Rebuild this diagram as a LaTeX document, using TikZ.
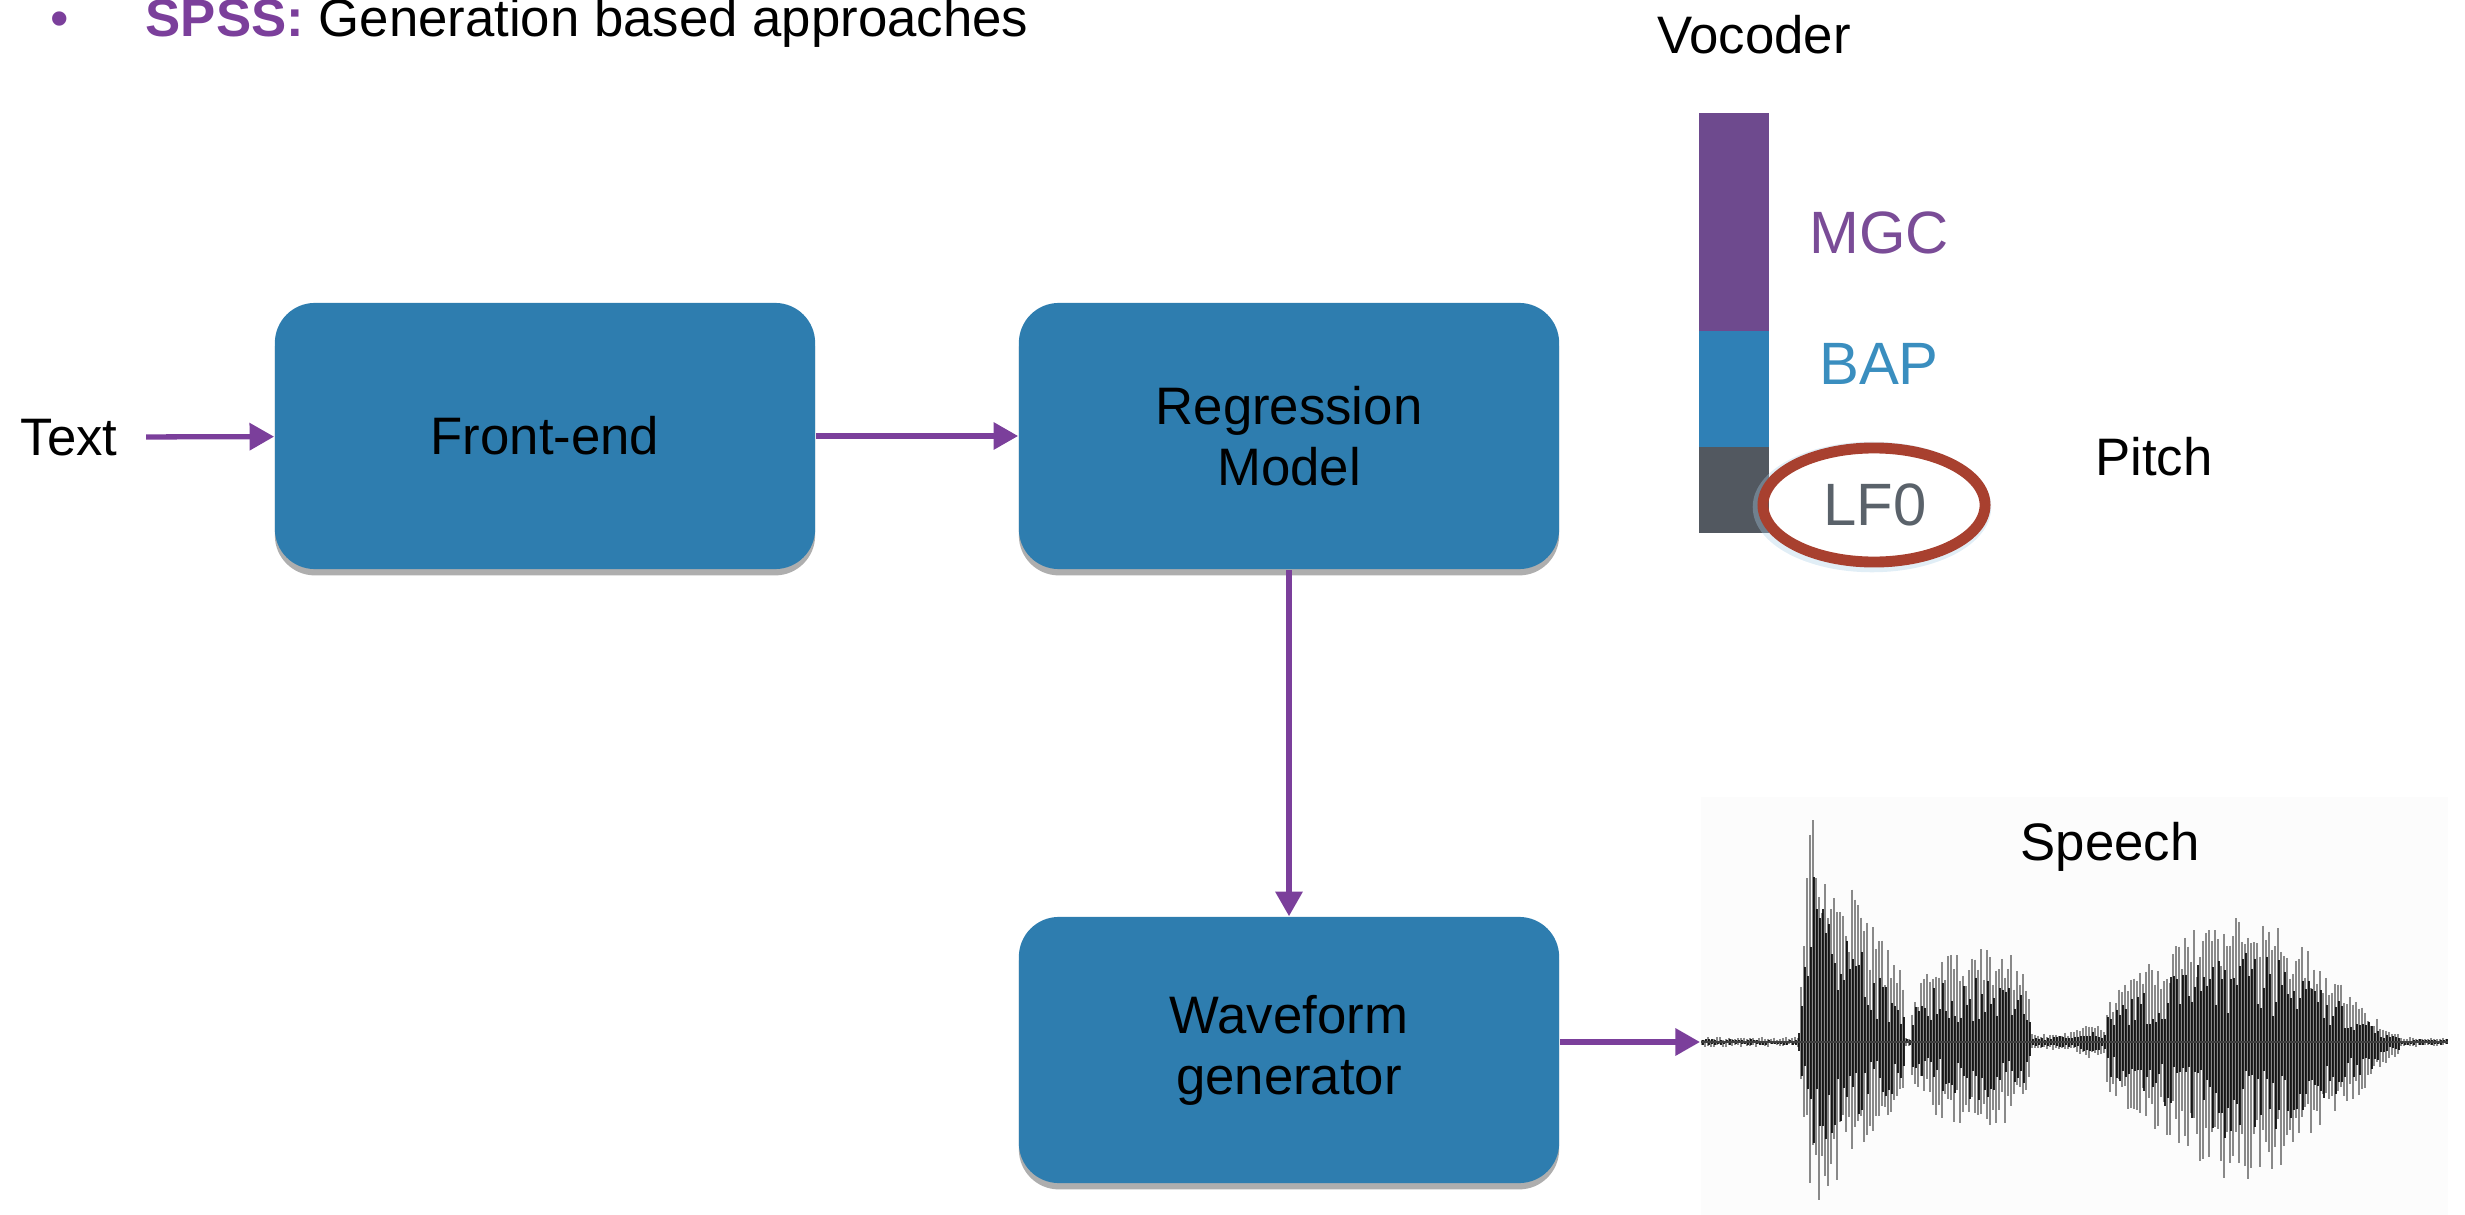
\documentclass[tikz,border=0pt]{standalone}
\usepackage{fontspec}
\setmainfont{Liberation Sans}
\usetikzlibrary{arrows.meta,shadows,shapes.geometric}

\definecolor{boxblue}{RGB}{46,125,175}
\definecolor{flowpurple}{RGB}{123,63,155}
\definecolor{mgcpurple}{RGB}{110,74,142}
\definecolor{mgctext}{RGB}{122,76,151}
\definecolor{bapblue}{RGB}{47,128,182}
\definecolor{baptext}{RGB}{58,142,191}
\definecolor{lfgray}{RGB}{82,88,96}
\definecolor{lftext}{RGB}{90,98,106}
\definecolor{ringred}{RGB}{168,64,47}
\definecolor{glowblue}{RGB}{170,205,230}

\begin{document}
\begin{tikzpicture}[x=0.01cm,y=-0.01cm,
  stage/.style={fill=boxblue, rounded corners=0.4cm,
    minimum width=5.4cm, minimum height=2.66cm, inner sep=0pt,
    align=center, font=\fontsize{15}{17.4}\selectfont,
    drop shadow={shadow xshift=0pt, shadow yshift=-1.8pt, opacity=0.45, fill=black!70}},
  txt/.style={inner sep=0pt, font=\fontsize{15}{17.4}\selectfont},
  feat/.style={inner sep=0pt, font=\fontsize{17}{20}\selectfont},
  flow/.style={draw=flowpurple, line width=1.5pt,
    -{Triangle[length=7pt,width=7.5pt]}},
  wavelight/.style={draw=black!65, line width=0.6pt, opacity=0.7},
  wavedark/.style={draw=black, line width=0.6pt, opacity=0.85},
  declare function={
    bone(\t)=(\t>1798)*(\t<1906)*min((\t-1798)/14,1)*exp(-max(\t-1815,0)/70);
    bonel(\t)=(\t>1798)*(\t<1906)*min((\t-1798)/14,1)*exp(-max(\t-1815,0)/90);
    btwo(\t)=(\t>1910)*(\t<2032)*exp(-min((abs(\t-1975)/65)^4,40));
    gap(\t)=(\t>2030)*(\t<2107)*(4+9*exp(-min((abs(\t-2090)/15)^2,40)));
    bthrup(\t)=(\t>2105)*(\t<2400)*(55*exp(-min((abs(\t-2230)/140)^6,40))
               +75*exp(-min((abs(\t-2240)/80)^2,40)));
    bthrdn(\t)=(\t>2105)*(\t<2400)*(62*exp(-min((abs(\t-2230)/150)^6,40))
               +75*exp(-min((abs(\t-2240)/80)^2,40)));
    envup(\t)=255*bone(\t)+91*btwo(\t)+gap(\t)+bthrup(\t);
    envdn(\t)=172*bonel(\t)+82*btwo(\t)+gap(\t)+bthrdn(\t);
  }]
\useasboundingbox (0,0) rectangle (2465,1215);

% heading
\node[txt, text=flowpurple, anchor=base] (dot) at (60,37) {•};
\node[txt, anchor=base west] (head) at (145,37)
  {\textcolor{flowpurple}{\bfseries SPSS:} Generation based approaches};

% processing chain
\node[txt, anchor=base] (text) at (69,455) {Text};
\node[stage] (front) at (545,436) {Front-end};
\node[stage] (regr) at (1289,436) {Regression\\Model};
\node[stage] (wave) at (1289,1050) {Waveform\\generator};

% vocoder parameter stack
\node[txt, anchor=base] (voc) at (1754,54) {Vocoder};
\fill[mgcpurple] (1699,113) rectangle (1769,331);
\fill[bapblue] (1699,331) rectangle (1769,447);
\fill[lfgray] (1699,447) rectangle (1769,533);
\node[feat, text=mgctext, anchor=base] (mgc) at (1879,253) {MGC};
\node[feat, text=baptext, anchor=base] (bap) at (1879,384) {BAP};
\draw[glowblue, line width=3pt, opacity=0.35] (1872,507) ellipse [x radius=114, y radius=60];
\node[ellipse, draw=ringred, line width=3.1pt, minimum width=2.22cm,
  minimum height=1.14cm, inner sep=0pt] (ring) at (1874,505) {};
\node[feat, text=lftext, anchor=base] (lf0) at (1875,525) {LF0};
\node[txt, anchor=base] (pitch) at (2154,475) {Pitch};

% speech waveform
\fill[black!1] (1701,797) rectangle (2448,1215);
\coordinate (wavein) at (1700,1042);
\pgfmathsetseed{4711}
\foreach \x in {1702,1705,...,2446}{
  \pgfmathsetmacro\u{envup(\x)*(0.55+0.45*rnd)+2+3*rnd}
  \pgfmathsetmacro\d{envdn(\x)*(0.55+0.45*rnd)+2+3*rnd}
  \draw[wavelight] (\x,1042-\u) -- (\x,1042+\d);
}
\foreach \x in {1703,1706,...,2447}{
  \pgfmathsetmacro\u{envup(\x)*(0.2+0.5*rnd)+1+2*rnd}
  \pgfmathsetmacro\d{envdn(\x)*(0.2+0.5*rnd)+1+2*rnd}
  \draw[wavedark] (\x,1042-\u) -- (\x,1042+\d);
}
\draw[black!75, line width=0.8pt] (1701,1042) -- (2448,1042);
\node[txt, anchor=base] (speech) at (2110,860) {Speech};

% connectors
\draw[flow, shorten <=28*0.2845pt] (text) -- (front);
\draw[flow] (front) -- (regr);
\draw[flow] (regr) -- (wave);
\draw[flow] (wave.east |- wavein) -- (wavein);
\end{tikzpicture}
\end{document}
